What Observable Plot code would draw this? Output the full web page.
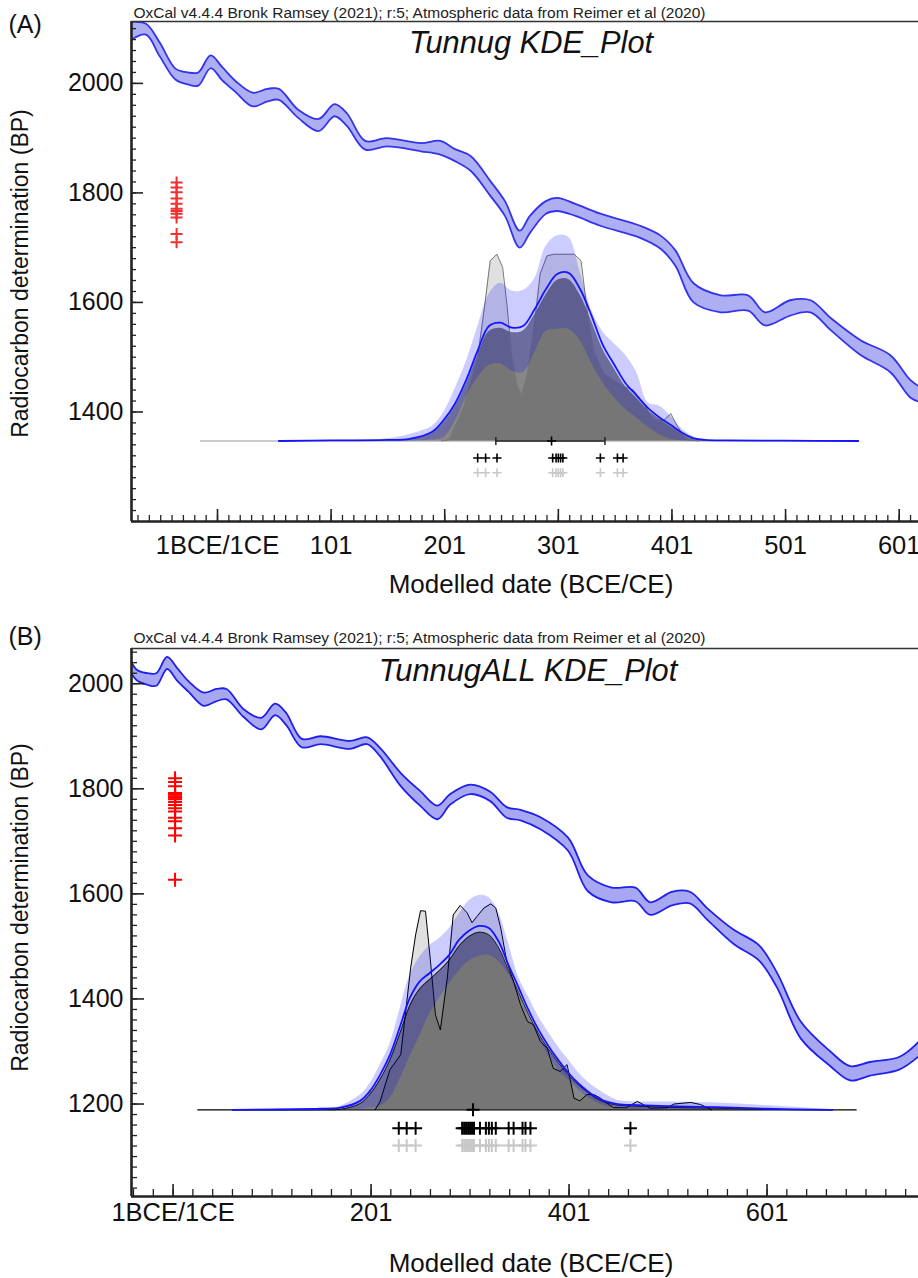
<!DOCTYPE html>
<html><head><meta charset="utf-8">
<script src="https://cdn.jsdelivr.net/npm/d3@7"></script>
<script src="https://cdn.jsdelivr.net/npm/@observablehq/plot@0.6"></script>
<style>
body{margin:0;background:#fff;}
#wrap{position:relative;width:918px;height:1278px;overflow:hidden;}
#a{position:absolute;left:0;top:0;}
#b{position:absolute;left:0;top:615px;}
svg{overflow:visible;}
</style></head><body><div id="wrap"><div id="a"></div><div id="b"></div></div>
<script>
// ---------- Calibration curve as drawn in panel A (IntCal20 band, BP) ----------
const calYearsA = [-76,-62,-50,-36,-25,-16,-5,5,17,32,45,55,72,90,104,115,131,150,180,197,210,224,241,254,267,276,290,300,316,338,373,391,404,420,444,468,483,505,523,541,567,593,611,620];
const calUpperA = [2112,2109,2075,2027,2020,2020,2051,2030,2004,1983,1990,1990,1952,1935,1962,1945,1895,1900,1891,1895,1880,1867,1822,1785,1731,1758,1785,1791,1780,1762,1740,1722,1695,1635,1613,1613,1582,1604,1604,1571,1531,1504,1458,1445];
const calLowerA = [2078,2089,2050,2007,1998,1996,2028,2006,1984,1958,1967,1970,1937,1913,1940,1922,1879,1885,1876,1870,1858,1840,1795,1758,1700,1727,1762,1767,1758,1740,1718,1698,1667,1600,1582,1585,1558,1576,1582,1549,1504,1473,1426,1418];
// ---------- Calibration curve as drawn in panel B ----------
const calYearsB = [-76,-62,-50,-36,-25,-16,-5,5,17,32,45,55,72,90,104,115,131,150,180,197,210,231,251,268,281,301,321,338,352,373,400,420,444,468,483,505,523,541,567,593,611,635,665,685,705,735,755];
const calUpperB = [2112,2109,2075,2027,2020,2020,2051,2030,2004,1983,1990,1990,1952,1935,1962,1945,1895,1900,1891,1898,1878,1830,1795,1768,1790,1808,1795,1765,1760,1745,1707,1635,1612,1612,1584,1604,1604,1572,1532,1502,1450,1357,1300,1272,1280,1290,1320];
const calLowerB = [2078,2089,2050,2007,1998,1996,2028,2006,1984,1958,1967,1970,1937,1913,1940,1922,1879,1885,1876,1885,1862,1805,1767,1742,1770,1790,1777,1745,1740,1722,1682,1605,1584,1586,1560,1578,1582,1550,1505,1473,1422,1325,1272,1245,1254,1266,1292];

// ---------- Panel A (Tunnug) ----------
const redA = [1819,1810,1801,1790,1780,1771,1767,1762,1755,1725,1710];
const medianA = [230,237,247,296,299,301,303,305,338,353,358];
const kdeYearsA = [55,100,150,170,190,200,210,220,230,240,250,260,270,280,290,300,310,320,330,340,350,360,370,380,390,400,410,420,430,450,500,565];
const kdeUpperA = [0,1,4,12,27,52,95,145,208,268,288,274,275,296,355,375,372,310,240,200,178,157,125,70,64,45,22,8,2,1,0.5,0];
const kdeMeanA  = [0,1,2,4,17,38,68,112,165,210,216,207,210,240,277,305,307,278,230,176,140,106,83,60,43,29,15,5,2,1,0.5,0];
const kdeLowerA = [0,0,0,0,2,6,35,80,115,138,141,128,125,160,200,204,204,184,143,107,80,58,42,25,12,3,0,0,0,0,0,0];
const kdeDistA  = [0,0,1,3,14,33,62,104,156,200,206,198,201,230,266,293,295,267,220,168,133,100,78,56,40,26,13,4,1,0,0,0];
const sumYearsA = [198,205,218,230,236,241,247,252,256,260,265,269,274,280,285,291,297,306,315,321,326,332,341,350,359,367,376,385,394,400,406,414,425];
const sumHeightA = [0,2,62,153,244,329,341,317,244,153,99,84,123,214,305,338,341,341,341,329,244,165,123,111,99,93,68,38,38,50,26,2,0];

// ---------- Panel B (TunnugALL) ----------
const redB = [1820,1813,1805,1792,1789,1786,1783,1780,1775,1769,1763,1757,1745,1738,1725,1711,1627];
const medianB = [229,237,246,293,295,297,299,301,303,305,311,317,320,323,327,340,345,354,357,362,463];
const kdeYearsB = [61,150,170,190,200,210,220,230,240,250,260,270,280,290,300,310,320,330,340,350,360,370,380,390,400,410,420,430,440,450,470,500,550,600,667];
const kdeUpperB = [0,3,7,28,50,85,125,190,255,290,312,326,345,372,398,408,404,375,316,253,215,178,148,120,96,72,53,39,27,18,15,15,13,8,0];
const kdeMeanB  = [0,2,4,17,36,66,104,157,212,244,260,276,295,324,341,350,346,320,275,233,190,153,122,95,71,51,35,22,15,11,9,7,5,2,0];
const kdeLowerB = [0,0,0,1,3,7,22,57,100,140,182,212,240,264,283,292,294,282,258,219,180,140,104,75,58,39,24,13,6,3,0,0,0,0,0];
const kdeDistB  = [0,0,1,12,30,58,95,145,198,230,248,265,285,312,330,338,333,308,265,224,182,146,116,90,67,48,33,20,13,9,7,5,3,1,0];
const sumYearsB = [205,210,220,231,241,246,251,256,261,266,271,278,284,291,298,303,308,315,322,327,332,338,345,352,359,365,372,379,385,392,399,406,412,419,426,433,439,446,459,470,483,500,507,524,534,545];
const sumHeightB = [0,15,76,105,270,333,379,378,283,181,152,251,371,389,375,356,368,384,392,384,346,283,244,200,168,162,130,117,79,73,86,22,17,29,29,22,13,4,4,16,3,4,11,14,10,0];

// ---------- Axis tick labels and texts ----------
const xTicksA = [1,101,201,301,401,501,601];
const xTicksB = [1,201,401,601];
const xTickText = {1:"1BCE/1CE",101:"101",201:"201",301:"301",401:"401",501:"501",601:"601"};
const yTicksA = [1400,1600,1800,2000];
const yTicksB = [1200,1400,1600,1800,2000];
const header = "OxCal v4.4.4 Bronk Ramsey (2021); r:5; Atmospheric data from Reimer et al (2020)";
const xTitle = "Modelled date (BCE/CE)";
const yTitle = "Radiocarbon determination (BP)";

const FONT = "'Liberation Sans', Arial, Helvetica, sans-serif";
const plusSym = {draw(ctx, size){ const r = Math.sqrt(size/Math.PI); ctx.moveTo(-r,0); ctx.lineTo(r,0); ctx.moveTo(0,-r); ctx.lineTo(0,r);} };
const vbarSym = {draw(ctx, size){ const r = Math.sqrt(size/Math.PI); ctx.moveTo(0,-r); ctx.lineTo(0,r);} };

function panel(c){
  const cal = c.calYears.map((y,i)=>({year:y, up:c.calUp[i], lo:c.calLo[i]}));
  const kde = c.kdeYears.map((y,i)=>({year:y, up:c.up[i], m:c.mean[i], lo:c.low[i], k:c.dist[i]}));
  const sum = c.sumYears.map((y,i)=>({year:y, h:c.sumH[i]}));
  const base = c.base;
  const W = 918, H = c.height;
  const plotW = W - c.ml, plotH = H - c.mt - c.mb;
  const minorY = d3.range(Math.ceil(c.yDomain[0]/20)*20, c.yDomain[1]+0.1, 20);
  const minorX = d3.range(c.xMinorStart, c.xDomain[1], c.xMinorStep);
  const marks = [
    Plot.areaY(cal, {x:"year", y1:"lo", y2:"up", fill:c.calFill, curve:"catmull-rom", clip:true}),
    Plot.line(cal, {x:"year", y:"up", stroke:c.calStroke, strokeWidth:1.8, curve:"catmull-rom", clip:true}),
    Plot.line(cal, {x:"year", y:"lo", stroke:c.calStroke, strokeWidth:1.8, curve:"catmull-rom", clip:true}),
    Plot.dot(c.red, {x:()=>c.redYear, y:d=>d, symbol:plusSym, r:c.redR, stroke:c.redColor, strokeWidth:2, fill:"none"}),
    Plot.ruleY([base], {x1:c.baseStart, x2:c.baseEnd, stroke:c.baseColor, strokeWidth:1.3}),
    Plot.areaY(kde, {x:"year", y1:()=>base, y2:d=>base+d.k, fill:"#000", fillOpacity:0.47, curve:"catmull-rom"}),
    Plot.areaY(sum, {x:"year", y1:()=>base, y2:d=>base+d.h, fill:"#000", fillOpacity:0.12}),
    Plot.line(sum, {x:"year", y:d=>base+d.h, stroke:c.sumStroke, strokeWidth:1}),
    Plot.areaY(kde, {x:"year", y1:d=>base+d.lo, y2:d=>base+d.up, fill:"#0000ff", fillOpacity:0.2, curve:"catmull-rom"}),
    Plot.line(kde, {x:"year", y:d=>base+d.k, stroke:"#000", strokeOpacity:c.kOpacity, strokeWidth:1, curve:"catmull-rom"}),
    Plot.line(kde, {x:"year", y:d=>base+d.m, stroke:"#1414ff", strokeWidth:1.8, curve:"catmull-rom"}),
    Plot.dot(c.medians, {x:d=>d, y:()=>c.rowBlack, symbol:plusSym, r:c.medR, stroke:"#000", strokeWidth:c.medW, fill:"none"}),
    Plot.dot(c.medians, {x:d=>d, y:()=>c.rowGray, symbol:plusSym, r:c.medR, stroke:"#c8c8c8", strokeWidth:c.medW, fill:"none"}),
    ...(c.range ? [
      Plot.ruleY([base], {x1:c.range[0], x2:c.range[1], stroke:"#222", strokeWidth:1.6}),
      Plot.dot(c.range, {x:d=>d, y:()=>base, symbol:vbarSym, r:4, stroke:"#222", strokeWidth:1.5, fill:"none"})
    ] : []),
    Plot.dot([c.center], {x:d=>d, y:()=>base, symbol:plusSym, r:c.medR, stroke:"#000", strokeWidth:c.medW, fill:"none"}),
    Plot.tickY(minorY, {y:d=>d, insetRight:plotW - c.yMinorLen, stroke:"#222", strokeWidth:1.3}),
    Plot.tickY(c.yTicks, {y:d=>d, insetRight:plotW - c.yMajorLen, stroke:"#222", strokeWidth:1.6}),
    Plot.tickX(minorX, {x:d=>d, insetTop:plotH - c.xMinorLen, stroke:"#222", strokeWidth:1.3}),
    Plot.tickX(c.xTicks, {x:d=>d, insetTop:plotH - 12, stroke:"#222", strokeWidth:1.6}),
    Plot.axisY(c.yTicks, {tickSize:0, tickPadding:8, fontSize:25, label:null, fill:"#111", tickFormat:d=>String(d)}),
    Plot.axisX(c.xTicks, {tickSize:0, tickPadding:c.xPad, fontSize:25.5, label:null, fill:"#111", tickFormat:d=>xTickText[d]}),
    Plot.ruleX([c.xDomain[0]], {stroke:"#222", strokeWidth:2.6}),
    Plot.ruleY([c.yDomain[0]], {stroke:"#222", strokeWidth:2.6}),
    Plot.ruleY([c.yDomain[1]], {stroke:"#333", strokeWidth:1.5}),
    Plot.text([c.tag], {text:d=>d, frameAnchor:"top-left", dx:8-c.ml, dy:c.tagDy, textAnchor:"start", lineAnchor:"bottom", fontSize:25, fill:"#111"}),
    Plot.text([header], {text:d=>d, frameAnchor:"top-left", dx:2, dy:c.hdrDy, textAnchor:"start", lineAnchor:"bottom", fontSize:15.5, fill:"#222"}),
    Plot.text([c.title], {text:d=>d, frameAnchor:"top", dx:c.titleDx, dy:c.titleDy, lineAnchor:"bottom", fontSize:30.8, fontStyle:"italic", fill:"#111"}),
    Plot.text([yTitle], {text:d=>d, frameAnchor:"left", textAnchor:"middle", dx:20-c.ml, dy:c.yTitleDy, rotate:-90, fontSize:23, fill:"#111"}),
    Plot.text([xTitle], {text:d=>d, frameAnchor:"bottom", textAnchor:"middle", dx:6, dy:c.xTitleDy, lineAnchor:"bottom", fontSize:26, fill:"#111"})
  ];
  return Plot.plot({
    width:W, height:H,
    marginLeft:c.ml, marginRight:0, marginTop:c.mt, marginBottom:c.mb,
    x:{domain:c.xDomain}, y:{domain:c.yDomain},
    style:{fontFamily:FONT, background:"#fff", overflow:"visible"},
    marks
  });
}

const A = panel({
  height:605, ml:131, mt:21, mb:84,
  xDomain:[-74.7, 618], yDomain:[1200, 2113],
  xMinorStart:-69, xMinorStep:10, xTicks:xTicksA, yTicks:yTicksA,
  yMinorLen:5, yMajorLen:12, xMinorLen:6, xPad:14,
  calYears:calYearsA, calUp:calUpperA, calLo:calLowerA,
  calFill:"#aeaef3", calStroke:"#3333ee",
  red:redA, redYear:-35, redR:6, redColor:"#f23030",
  base:1347, baseStart:-14, baseEnd:565, baseColor:"#b8b8b8",
  kdeYears:kdeYearsA, up:kdeUpperA, mean:kdeMeanA, low:kdeLowerA, dist:kdeDistA,
  sumYears:sumYearsA, sumH:sumHeightA, sumStroke:"#777", kOpacity:0,
  medians:medianA, rowBlack:1316, rowGray:1289, medR:4.5, medW:1.6,
  range:[246,342], center:295,
  tag:"(A)", tagDy:11, hdrDy:-4, title:"Tunnug KDE_Plot", titleDx:6, titleDy:31, yTitleDy:2, xTitleDy:71
});
const B = panel({
  height:663, ml:131, mt:33, mb:82,
  xDomain:[-41, 754], yDomain:[1024, 2067],
  xMinorStart:-39, xMinorStep:20, xTicks:xTicksB, yTicks:yTicksB,
  yMinorLen:6, yMajorLen:13, xMinorLen:7, xPad:6,
  calYears:calYearsB, calUp:calUpperB, calLo:calLowerB,
  calFill:"#a8a8f2", calStroke:"#1f1fee",
  red:redB, redYear:3, redR:7, redColor:"#ff0000",
  base:1189, baseStart:26, baseEnd:692, baseColor:"#000",
  kdeYears:kdeYearsB, up:kdeUpperB, mean:kdeMeanB, low:kdeLowerB, dist:kdeDistB,
  sumYears:sumYearsB, sumH:sumHeightB, sumStroke:"#000", kOpacity:0.8,
  medians:medianB, rowBlack:1154, rowGray:1121, medR:6.5, medW:2,
  range:null, center:304,
  tag:"(B)", tagDy:-4, hdrDy:-6, title:"TunnugALL KDE_Plot", titleDx:3, titleDy:32, yTitleDy:-15, xTitleDy:75
});
document.getElementById("a").appendChild(A);
document.getElementById("b").appendChild(B);
</script>
</body></html>
